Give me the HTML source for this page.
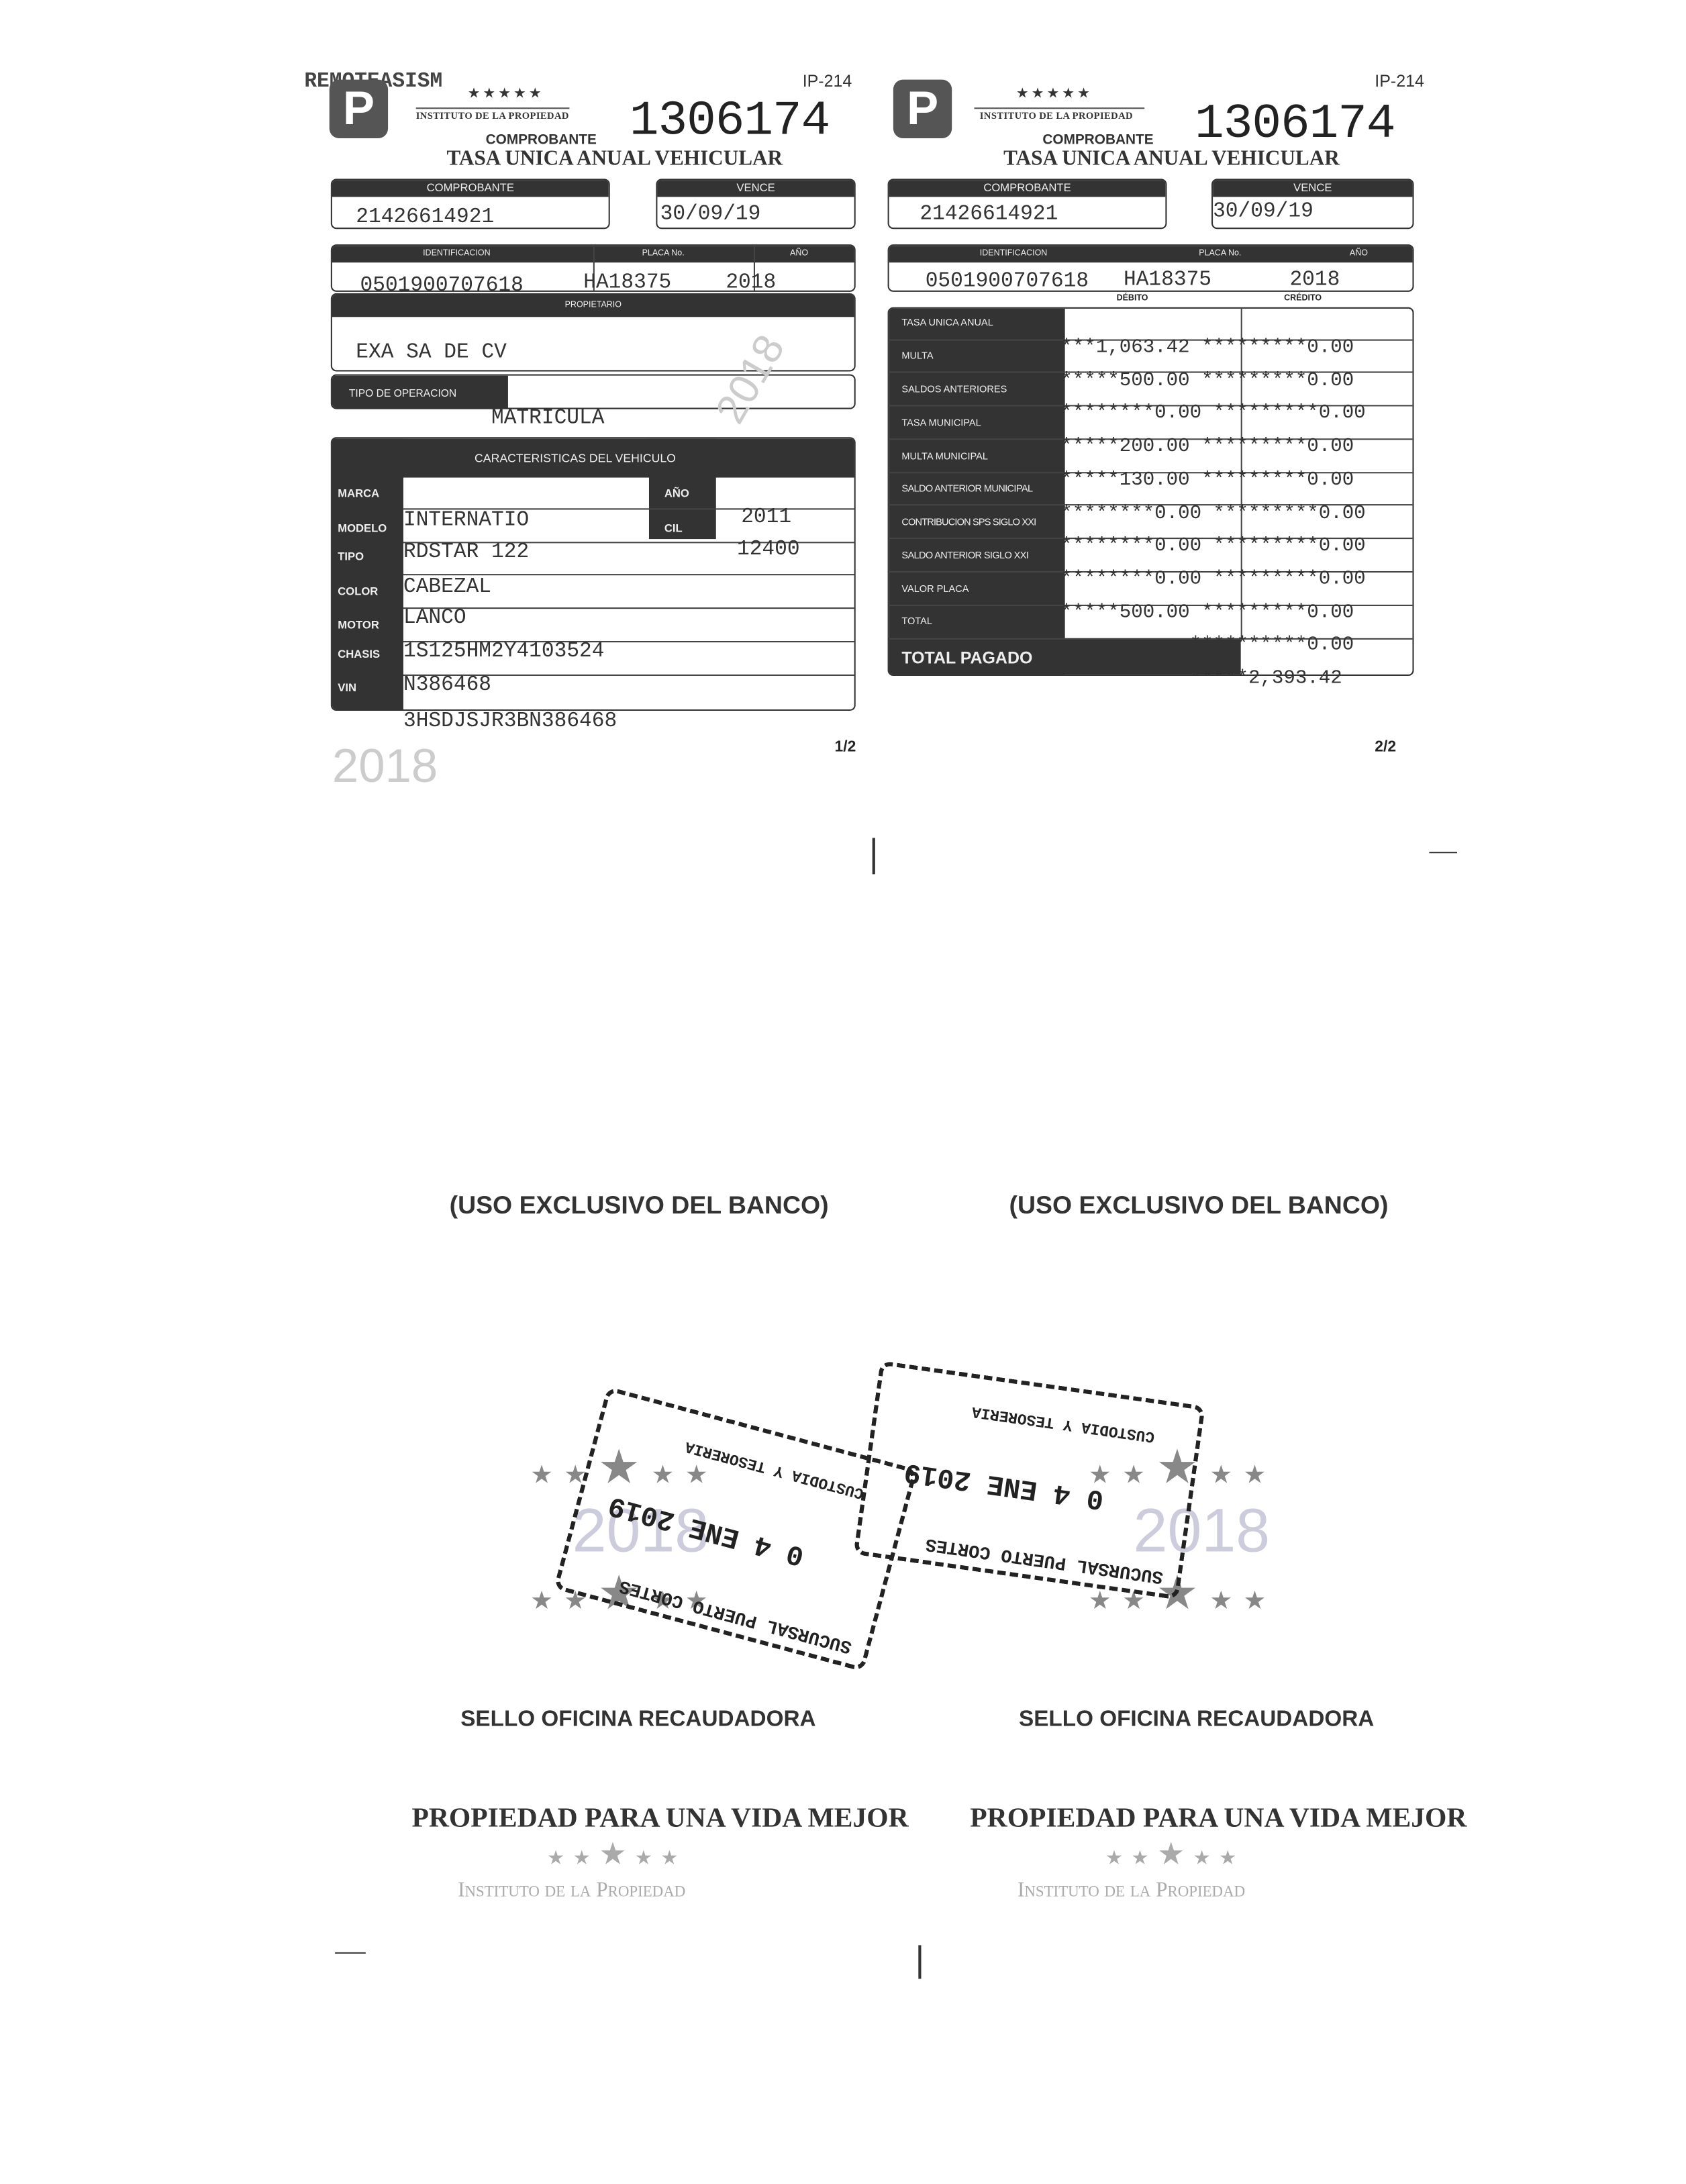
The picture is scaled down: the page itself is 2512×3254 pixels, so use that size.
<!DOCTYPE html>
<html><head><meta charset="utf-8"><style>
html,body{margin:0;padding:0;background:#fff;}
#wrap{position:relative;width:2512px;height:3254px;overflow:hidden;background:#fff;}
#s{position:absolute;left:0;top:0;width:1208px;height:1564px;transform:scale(2.0795,2.0806);transform-origin:0 0;font-family:"Liberation Sans",sans-serif;color:#222;}
#s div{position:absolute;box-sizing:border-box;}
.mono{font-family:"Liberation Mono",monospace;color:#333;}
.serif{font-family:"Liberation Serif",serif;font-weight:bold;color:#333;}
.box{border:1.3px solid #333;border-radius:4px;background:#fff;overflow:hidden;}
.hd{background:#333;color:#eee;font-size:8px;text-align:center;line-height:12px;left:0;right:0;top:0;height:12px;}
.dk{background:#333;}
.lbl{color:#eee;font-size:8px;font-weight:bold;}
.rl{color:#eee;font-size:7px;white-space:nowrap;}
.hl{height:1px;background:#444;}
.logo{background:#555;border-radius:7px;color:#fff;font-size:34px;font-weight:bold;text-align:center;line-height:42px;}
.star{color:#888;}
.fade{color:#ccc;}
</style></head><body><div id="wrap"><div id="s">

<!-- LEFT FORM -->
<div class="mono" style="left:218px;top:50px;font-size:15px;font-weight:bold;color:#444">REMOTEASISM</div>
<div class="logo" style="left:236px;top:57px;width:42px;height:42px;">P</div>
<div style="left:575px;top:51px;font-size:12px;color:#333">IP-214</div>
<div style="left:335px;top:62px;font-size:10px;color:#333;letter-spacing:2px">★★★★★</div>
<div style="left:298px;top:77px;width:110px;height:1px;background:#555"></div>
<div class="serif" style="left:298px;top:79px;font-size:7px;letter-spacing:0.2px">INSTITUTO DE LA PROPIEDAD</div>
<div class="mono" style="left:451px;top:66px;font-size:35px;line-height:42px;color:#222;letter-spacing:-0.5px">1306174</div>
<div style="left:348px;top:95px;font-size:10px;font-weight:bold;color:#333">COMPROBANTE</div>
<div class="serif" style="left:320px;top:106px;font-size:15px">TASA UNICA ANUAL VEHICULAR</div>

<div class="box" style="left:237px;top:128px;width:200px;height:36px;"><div class="hd">COMPROBANTE</div></div>
<div class="mono" style="left:255px;top:147px;font-size:15px">21426614921</div>
<div class="box" style="left:470px;top:128px;width:143px;height:36px;"><div class="hd">VENCE</div></div>
<div class="mono" style="left:473px;top:145px;font-size:15px">30/09/19</div>

<div class="box" style="left:237px;top:175px;width:376px;height:34px;"><div class="hd" style="font-size:6px"><span style="position:absolute;left:65px">IDENTIFICACION</span><span style="position:absolute;left:222px">PLACA No.</span><span style="position:absolute;left:328px">AÑO</span></div></div>
<div style="left:425px;top:175px;width:1px;height:34px;background:#444"></div>
<div style="left:540px;top:175px;width:1px;height:34px;background:#444"></div>
<div class="mono" style="left:258px;top:196px;font-size:15px">0501900707618</div>
<div class="mono" style="left:418px;top:194px;font-size:15px">HA18375</div>
<div class="mono" style="left:520px;top:194px;font-size:15px">2018</div>

<div class="box" style="left:237px;top:210px;width:376px;height:56px;"><div class="hd" style="font-size:6px;height:16px;line-height:16px">PROPIETARIO</div></div>
<div class="mono" style="left:255px;top:244px;font-size:15px">EXA SA DE CV</div>

<div class="box" style="left:237px;top:268px;width:376px;height:25px;"><div class="dk" style="left:0;top:0;width:126px;height:25px"></div></div>
<div class="lbl" style="left:250px;top:277px;font-weight:normal;font-size:7.5px">TIPO DE OPERACION</div>
<div class="mono" style="left:352px;top:291px;font-size:15px">MATRICULA</div>

<div class="box" style="left:237px;top:313px;width:376px;height:196px;">
 <div class="dk" style="left:0;top:0;width:376px;height:28px"></div>
 <div class="dk" style="left:0;top:0;width:51px;height:196px"></div>
 <div class="dk" style="left:227px;top:0;width:48px;height:72px"></div>
 <div class="hl" style="left:51px;right:0;top:50px"></div>
 <div class="hl" style="left:51px;right:0;top:74px"></div>
 <div class="hl" style="left:51px;right:0;top:97px"></div>
 <div class="hl" style="left:51px;right:0;top:121px"></div>
 <div class="hl" style="left:51px;right:0;top:145px"></div>
 <div class="hl" style="left:51px;right:0;top:169px"></div>
</div>
<div class="lbl" style="left:340px;top:323px;font-size:8.5px;font-weight:normal">CARACTERISTICAS DEL VEHICULO</div>
<div class="lbl" style="left:242px;top:349px">MARCA</div>
<div class="lbl" style="left:242px;top:374px">MODELO</div>
<div class="lbl" style="left:242px;top:394px">TIPO</div>
<div class="lbl" style="left:242px;top:419px">COLOR</div>
<div class="lbl" style="left:242px;top:443px">MOTOR</div>
<div class="lbl" style="left:242px;top:464px">CHASIS</div>
<div class="lbl" style="left:242px;top:488px">VIN</div>
<div class="lbl" style="left:476px;top:349px">AÑO</div>
<div class="lbl" style="left:476px;top:374px">CIL</div>
<div class="mono" style="left:289px;top:364px;font-size:15px">INTERNATIO</div>
<div class="mono" style="left:289px;top:387px;font-size:15px">RDSTAR 122</div>
<div class="mono" style="left:289px;top:412px;font-size:15px">CABEZAL</div>
<div class="mono" style="left:289px;top:434px;font-size:15px">LANCO</div>
<div class="mono" style="left:289px;top:458px;font-size:15px">1S125HM2Y4103524</div>
<div class="mono" style="left:289px;top:482px;font-size:15px">N386468</div>
<div class="mono" style="left:531px;top:362px;font-size:15px">2011</div>
<div class="mono" style="left:528px;top:385px;font-size:15px">12400</div>
<div class="mono" style="left:289px;top:508px;font-size:15px">3HSDJSJR3BN386468</div>
<div style="left:598px;top:529px;font-size:11px;font-weight:bold">1/2</div>
<div class="fade" style="left:238px;top:530px;font-size:34px">2018</div>
<div class="fade" style="left:505px;top:255px;font-size:30px;transform:rotate(-60deg)">2018</div>

<!-- RIGHT FORM -->
<div class="logo" style="left:640px;top:57px;width:42px;height:42px;">P</div>
<div style="left:985px;top:51px;font-size:12px;color:#333">IP-214</div>
<div style="left:728px;top:62px;font-size:10px;color:#333;letter-spacing:2px">★★★★★</div>
<div style="left:698px;top:77px;width:122px;height:1px;background:#555"></div>
<div class="serif" style="left:702px;top:79px;font-size:7px;letter-spacing:0.2px">INSTITUTO DE LA PROPIEDAD</div>
<div class="mono" style="left:856px;top:68px;font-size:35px;line-height:42px;color:#222;letter-spacing:-0.5px">1306174</div>
<div style="left:747px;top:95px;font-size:10px;font-weight:bold;color:#333">COMPROBANTE</div>
<div class="serif" style="left:719px;top:106px;font-size:15px">TASA UNICA ANUAL VEHICULAR</div>

<div class="box" style="left:636px;top:128px;width:200px;height:36px;"><div class="hd">COMPROBANTE</div></div>
<div class="mono" style="left:659px;top:145px;font-size:15px">21426614921</div>
<div class="box" style="left:868px;top:128px;width:145px;height:36px;"><div class="hd">VENCE</div></div>
<div class="mono" style="left:869px;top:143px;font-size:15px">30/09/19</div>

<div class="box" style="left:636px;top:175px;width:377px;height:34px;"><div class="hd" style="font-size:6px"><span style="position:absolute;left:65px">IDENTIFICACION</span><span style="position:absolute;left:222px">PLACA No.</span><span style="position:absolute;left:330px">AÑO</span></div></div>
<div class="mono" style="left:663px;top:193px;font-size:15px">0501900707618</div>
<div class="mono" style="left:805px;top:192px;font-size:15px">HA18375</div>
<div class="mono" style="left:924px;top:192px;font-size:15px">2018</div>
<div style="left:800px;top:211px;font-size:6px;font-weight:bold">DÉBITO</div>
<div style="left:920px;top:211px;font-size:6px;font-weight:bold">CRÉDITO</div>

<div class="box" style="left:636px;top:220px;width:377px;height:264px;">
 <div class="dk" style="left:0;top:0;width:126px;height:264px"></div>
 <div class="dk" style="left:0;top:236px;width:252px;height:28px"></div>
 <div style="left:252px;top:0;width:1px;height:236px;background:#444"></div>
 <div class="hl" style="left:0;right:0;top:22px"></div>
 <div class="hl" style="left:0;right:0;top:45px"></div>
 <div class="hl" style="left:0;right:0;top:69px"></div>
 <div class="hl" style="left:0;right:0;top:93px"></div>
 <div class="hl" style="left:0;right:0;top:117px"></div>
 <div class="hl" style="left:0;right:0;top:140px"></div>
 <div class="hl" style="left:0;right:0;top:164px"></div>
 <div class="hl" style="left:0;right:0;top:188px"></div>
 <div class="hl" style="left:0;right:0;top:212px"></div>
 <div class="hl" style="left:0;right:0;top:236px"></div>
</div>
<div class="rl" style="left:646px;top:228px">TASA UNICA ANUAL</div>
<div class="rl" style="left:646px;top:252px">MULTA</div>
<div class="rl" style="left:646px;top:276px">SALDOS ANTERIORES</div>
<div class="rl" style="left:646px;top:300px">TASA MUNICIPAL</div>
<div class="rl" style="left:646px;top:324px">MULTA MUNICIPAL</div>
<div class="rl" style="left:646px;top:347px;letter-spacing:-0.3px">SALDO ANTERIOR MUNICIPAL</div>
<div class="rl" style="left:646px;top:371px;letter-spacing:-0.4px">CONTRIBUCION SPS SIGLO XXI</div>
<div class="rl" style="left:646px;top:395px;letter-spacing:-0.3px">SALDO ANTERIOR SIGLO XXI</div>
<div class="rl" style="left:646px;top:419px">VALOR PLACA</div>
<div class="rl" style="left:646px;top:442px">TOTAL</div>
<div class="lbl" style="left:646px;top:464px;font-size:12px">TOTAL PAGADO</div>
<div class="mono" style="left:760px;top:238px;font-size:14px;line-height:23.7px;white-space:pre">***1,063.42 *********0.00
*****500.00 *********0.00
********0.00 *********0.00
*****200.00 *********0.00
*****130.00 *********0.00
********0.00 *********0.00
********0.00 *********0.00
********0.00 *********0.00
*****500.00 *********0.00
           **********0.00
           *****2,393.42</div>
<div style="left:985px;top:529px;font-size:11px;font-weight:bold">2/2</div>

<!-- stray marks -->
<div style="left:625px;top:600px;width:2px;height:26px;background:#333"></div>
<div style="left:1024px;top:610px;width:20px;height:1px;background:#333"></div>
<div style="left:240px;top:1398px;width:22px;height:1px;background:#333"></div>
<div style="left:658px;top:1393px;width:2px;height:24px;background:#333"></div>

<!-- BOTTOM -->
<div style="left:322px;top:853px;font-size:18px;font-weight:bold;color:#333">(USO EXCLUSIVO DEL BANCO)</div>
<div style="left:723px;top:853px;font-size:18px;font-weight:bold;color:#333">(USO EXCLUSIVO DEL BANCO)</div>

<div class="star" style="left:380px;top:1036px;font-size:18px;letter-spacing:8px;line-height:30px">★★<span style="font-size:34px">★</span>★★</div>
<div class="star" style="left:380px;top:1126px;font-size:18px;letter-spacing:8px;line-height:30px">★★<span style="font-size:34px">★</span>★★</div>
<div class="star" style="left:780px;top:1036px;font-size:18px;letter-spacing:8px;line-height:30px">★★<span style="font-size:34px">★</span>★★</div>
<div class="star" style="left:780px;top:1126px;font-size:18px;letter-spacing:8px;line-height:30px">★★<span style="font-size:34px">★</span>★★</div>
<div class="fade" style="left:410px;top:1072px;font-size:44px;color:#ccd">2018</div>
<div class="fade" style="left:812px;top:1072px;font-size:44px;color:#ccd">2018</div>

<!-- stamps -->
<div style="left:412px;top:1020px;width:230px;height:150px;border:3px dashed #222;border-radius:8px;transform:rotate(195deg);">
 <div style="left:10px;top:4px;font-size:13px;font-weight:bold;font-family:'Liberation Mono',monospace;white-space:nowrap">SUCURSAL PUERTO CORTES</div>
 <div style="left:60px;top:55px;font-size:20px;font-weight:bold;font-family:'Liberation Mono',monospace">0 4 ENE 2019</div>
 <div style="left:30px;top:115px;font-size:11px;font-weight:bold;font-family:'Liberation Mono',monospace">CUSTODIA Y TESORERIA</div>
</div>
<div style="left:620px;top:990px;width:235px;height:140px;border:3px dashed #222;border-radius:8px;transform:rotate(188deg);">
 <div style="left:10px;top:4px;font-size:13px;font-weight:bold;font-family:'Liberation Mono',monospace;white-space:nowrap">SUCURSAL PUERTO CORTES</div>
 <div style="left:60px;top:50px;font-size:20px;font-weight:bold;font-family:'Liberation Mono',monospace">0 4 ENE 2019</div>
 <div style="left:30px;top:105px;font-size:11px;font-weight:bold;font-family:'Liberation Mono',monospace">CUSTODIA Y TESORERIA</div>
</div>

<div style="left:330px;top:1223px;font-size:16px;font-weight:bold;color:#333">SELLO OFICINA RECAUDADORA</div>
<div style="left:730px;top:1223px;font-size:16px;font-weight:bold;color:#333">SELLO OFICINA RECAUDADORA</div>
<div class="serif" style="left:295px;top:1291px;font-size:20px">PROPIEDAD PARA UNA VIDA MEJOR</div>
<div class="serif" style="left:695px;top:1291px;font-size:20px">PROPIEDAD PARA UNA VIDA MEJOR</div>
<div style="left:392px;top:1315px;font-size:14px;color:#aaa;letter-spacing:6px">★★<span style="font-size:22px">★</span>★★</div>
<div style="left:792px;top:1315px;font-size:14px;color:#aaa;letter-spacing:6px">★★<span style="font-size:22px">★</span>★★</div>
<div style="left:328px;top:1346px;font-size:15px;color:#aaa;font-family:'Liberation Serif',serif;font-variant:small-caps">Instituto de la Propiedad</div>
<div style="left:729px;top:1346px;font-size:15px;color:#aaa;font-family:'Liberation Serif',serif;font-variant:small-caps">Instituto de la Propiedad</div>

</div></div></body></html>
